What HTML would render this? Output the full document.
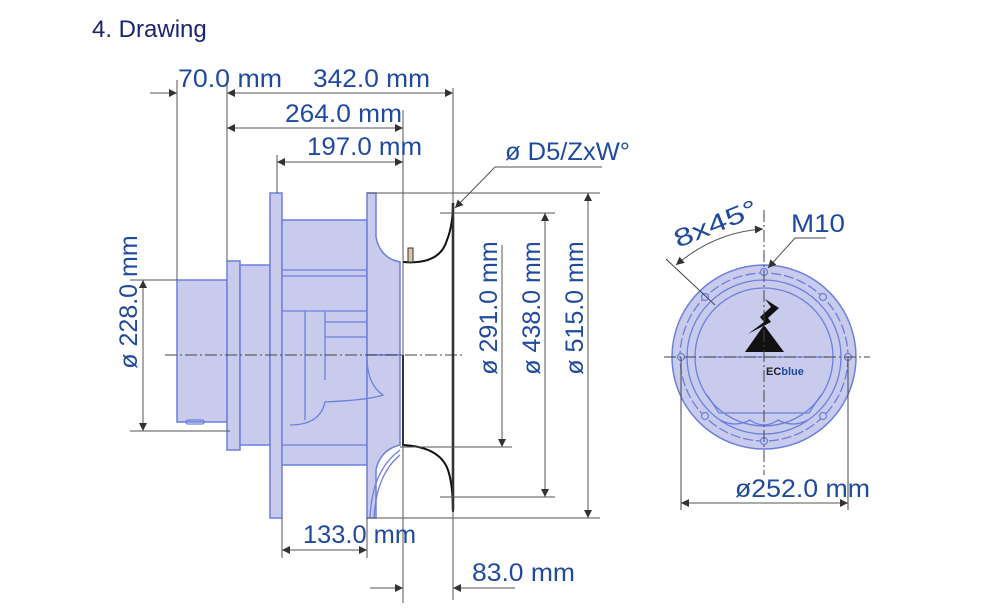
<!DOCTYPE html>
<html><head><meta charset="utf-8"><style>
html,body{margin:0;padding:0;background:#fff;}
svg{display:block;}
text{font-family:"Liberation Sans",sans-serif;fill:#1f4aa0;}
</style></head><body>
<svg width="1000" height="612" viewBox="0 0 1000 612" xmlns="http://www.w3.org/2000/svg">
<defs>
<marker id="a" viewBox="0 0 10 10" refX="10" refY="5" markerWidth="16" markerHeight="8" markerUnits="userSpaceOnUse" orient="auto-start-reverse">
<path d="M0,0 L10,5 L0,10 z" fill="#333"/></marker>
</defs>
<text x="92" y="37" font-size="24" style="fill:#1b2470">4.  Drawing</text>

<g fill="#c9cbec" stroke="#6b7fe0" stroke-width="1.5">
<rect x="177" y="280" width="50" height="142"/>
<rect x="227" y="261" width="13" height="189"/>
<rect x="240" y="265" width="30" height="180"/>
<rect x="270" y="193" width="12" height="325"/>
<rect x="282" y="220" width="85" height="245"/>
<path d="M367,193 L376,193 L376,237 Q380,258 400,262 L400,355 L367,355 z"/>
<path d="M367,355 L400,355 L400,445 Q380,450 376,470 L376,518 L367,518 z"/>
</g>
<g fill="none" stroke="#6b7fe0" stroke-width="1.3">
<line x1="282" y1="270" x2="367" y2="270"/><line x1="282" y1="276" x2="367" y2="276"/>
<line x1="282" y1="311" x2="367" y2="311"/>
<line x1="305" y1="311" x2="305" y2="420"/><line x1="325" y1="311" x2="325" y2="380"/>
<line x1="325" y1="322" x2="367" y2="322"/><line x1="325" y1="337" x2="367" y2="337"/>
<path d="M367,360 Q368,385 383,395 Q370,400 325,402 Q320,425 290,425"/>
<line x1="282" y1="445" x2="367" y2="445"/>
<path d="M370,518 Q372,470 400,450"/><path d="M374,518 Q376,475 400,455"/>
<rect x="186" y="420" width="18" height="4" rx="2"/>
</g>
<line x1="165" y1="355" x2="465" y2="355" stroke="#444" stroke-width="1" stroke-dasharray="12,3,2,3"/>
<g fill="none" stroke="#111" stroke-width="2">
<path d="M403,262 Q440,265 447,240 Q453,225 453,203"/>
<path d="M403,355 L403,445 Q440,447 448,470 Q453,485 453,512"/>
<line x1="453" y1="203" x2="453" y2="510" stroke-width="2.5"/>
</g>
<rect x="408" y="248" width="5" height="14" fill="#d9c9a0" stroke="#333" stroke-width="1"/>

<g stroke="#555" stroke-width="1" fill="none">
<line x1="177" y1="80" x2="177" y2="280"/>
<line x1="227" y1="80" x2="227" y2="261"/>
<line x1="453" y1="88" x2="453" y2="600"/>
<line x1="403" y1="110" x2="403" y2="603"/>
<line x1="277" y1="155" x2="277" y2="193"/>
<line x1="367" y1="193" x2="600" y2="193"/>
<line x1="440" y1="213" x2="555" y2="213"/>
<line x1="367" y1="518" x2="600" y2="518"/>
<line x1="440" y1="497" x2="555" y2="497"/>
<line x1="400" y1="447" x2="512" y2="447"/>
<line x1="130" y1="280" x2="177" y2="280"/>
<line x1="130" y1="431" x2="230" y2="431"/>
<line x1="282" y1="518" x2="282" y2="558"/>
<line x1="367" y1="518" x2="367" y2="558"/>
<line x1="495" y1="167" x2="602" y2="167"/>
</g>
<g stroke="#555" stroke-width="1" fill="none" marker-end="url(#a)">
<line x1="150" y1="93" x2="177" y2="93"/>
<line x1="227" y1="93" x2="453" y2="93" marker-start="url(#a)"/>
<line x1="227" y1="128" x2="403" y2="128" marker-start="url(#a)"/>
<line x1="277" y1="162" x2="403" y2="162" marker-start="url(#a)"/>
<line x1="143" y1="280" x2="143" y2="431" marker-start="url(#a)"/>
<line x1="502" y1="245" x2="502" y2="447"/>
<line x1="545" y1="213" x2="545" y2="497" marker-start="url(#a)"/>
<line x1="588" y1="193" x2="588" y2="518" marker-start="url(#a)"/>
<line x1="282" y1="550" x2="367" y2="550" marker-start="url(#a)"/>
<line x1="370" y1="588" x2="403" y2="588"/>
<line x1="515" y1="588" x2="453" y2="588"/>
<line x1="495" y1="167" x2="455" y2="208"/>
</g>
<g font-size="25">
<text x="178" y="87" textLength="104" lengthAdjust="spacingAndGlyphs">70.0 mm</text>
<text x="313" y="87" textLength="117" lengthAdjust="spacingAndGlyphs">342.0 mm</text>
<text x="285" y="122" textLength="117" lengthAdjust="spacingAndGlyphs">264.0 mm</text>
<text x="307" y="155" textLength="115" lengthAdjust="spacingAndGlyphs">197.0 mm</text>
<text x="505" y="160" textLength="125" lengthAdjust="spacingAndGlyphs">ø D5/ZxW°</text>
<text x="303" y="543" textLength="113" lengthAdjust="spacingAndGlyphs">133.0 mm</text>
<text x="472" y="581" textLength="103" lengthAdjust="spacingAndGlyphs">83.0 mm</text>
<text transform="translate(137,302) rotate(-90)" text-anchor="middle">ø 228.0 mm</text>
<text transform="translate(497,308) rotate(-90)" text-anchor="middle">ø 291.0 mm</text>
<text transform="translate(540,308) rotate(-90)" text-anchor="middle">ø 438.0 mm</text>
<text transform="translate(583,308) rotate(-90)" text-anchor="middle">ø 515.0 mm</text>
</g>

<g fill="#c9cbec" stroke="#6b7fe0" stroke-width="1.5">
<circle cx="764" cy="357" r="92"/>
</g>
<g fill="none" stroke="#6b7fe0" stroke-width="1.3">
<circle cx="764" cy="357" r="84" stroke-dasharray="10,3"/>
<circle cx="764" cy="357" r="77"/>
<circle cx="764" cy="357" r="69"/>
<path d="M700,357 L828,357"/>
<path d="M707,395 L719,413 L809,413 L821,395"/>
<path d="M720,420 Q735,428 750,420 Q764,430 778,420 Q793,428 808,420"/>
</g>
<g fill="#c9cbec" stroke="#6b7fe0" stroke-width="1.2">
<circle cx="764" cy="272" r="3.5"/><circle cx="764" cy="441" r="3.5"/>
<circle cx="681" cy="357" r="3.5"/><circle cx="848" cy="357" r="3.5"/>
<circle cx="705" cy="297" r="3.5"/><circle cx="823" cy="297" r="3.5"/>
<circle cx="705" cy="416" r="3.5"/><circle cx="823" cy="416" r="3.5"/>
</g>
<path d="M765,299 L779,308 L768,318 L771,322 L748,334 L764,322 L760,317 L771,307 Z" fill="#111"/>
<path d="M745,352 L764,325 L784,352 Z" fill="#111"/>
<text x="766" y="375" font-size="11" font-weight="bold" style="fill:#222">EC<tspan style="fill:#1f4aa0">blue</tspan></text>
<g stroke="#444" stroke-width="1" fill="none">
<line x1="664" y1="357" x2="870" y2="357" stroke-dasharray="12,3,2,3"/>
<line x1="764" y1="210" x2="764" y2="475" stroke-dasharray="12,3,2,3"/>
<line x1="666" y1="259" x2="715" y2="305"/>
<line x1="681" y1="357" x2="681" y2="510"/>
<line x1="848" y1="357" x2="848" y2="510"/>
<line x1="795" y1="238" x2="826" y2="238"/>
</g>
<g stroke="#555" stroke-width="1" fill="none">
<path d="M676,265 Q715,232 763,229" marker-start="url(#a)" marker-end="url(#a)"/>
<line x1="681" y1="503" x2="848" y2="503" marker-start="url(#a)" marker-end="url(#a)"/>
<line x1="795" y1="238" x2="768" y2="268" marker-end="url(#a)"/>
</g>
<g font-size="25">
<text transform="translate(678,248) rotate(-22)" textLength="88" lengthAdjust="spacingAndGlyphs">8x45°</text>
<text x="791" y="232" textLength="54" lengthAdjust="spacingAndGlyphs">M10</text>
<text x="735" y="497" textLength="135" lengthAdjust="spacingAndGlyphs">ø252.0 mm</text>
</g>
</svg>
</body></html>
